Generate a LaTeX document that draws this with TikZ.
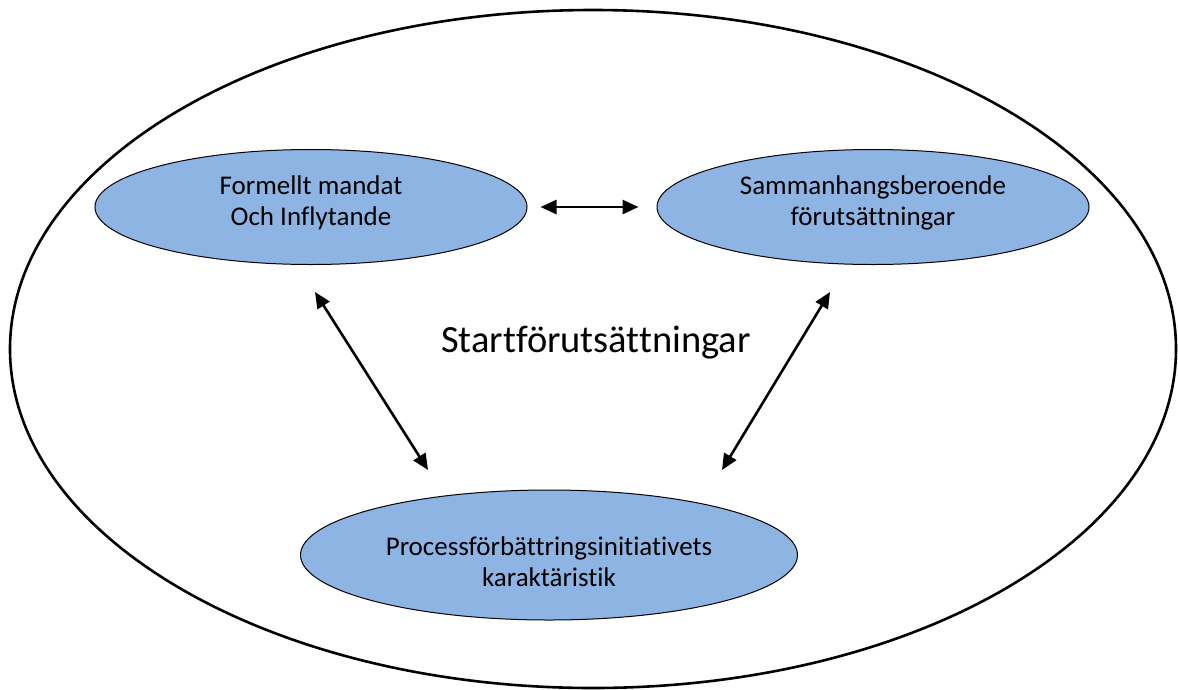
\documentclass[tikz,border=0pt]{standalone}
\usepackage{fontspec}
\setmainfont[Ligatures=CommonOff]{Carlito}
\usetikzlibrary{arrows.meta, shapes.geometric}
\definecolor{ellfill}{HTML}{8EB4E3}

\begin{document}
\begin{tikzpicture}[x=1pt, y=-1pt,
   outer/.style = {ellipse, draw, line width=2.6pt, inner sep=0pt,
                   minimum width=1166pt, minimum height=678pt},
    part/.style = {ellipse, draw, line width=1pt, fill=ellfill,
                   inner sep=0pt},
   label/.style = {align=center, font=\fontsize{27}{31}\selectfont},
    link/.style = {{Triangle[length=16pt,width=14pt]}-{Triangle[length=16pt,width=14pt]},
                   line width=2.6pt}
                    ]
  \useasboundingbox (0,0) rectangle (1178,689);
  \node (outer) [outer] at (593,349) {};
  \node (title) [font=\fontsize{38.5}{46}\selectfont] at (596,343) {Startförutsättningar};
  \node (fm) [part, minimum width=432pt, minimum height=115pt] at (311,207) {};
  \node (fm-t) [label] at (311,203) {Formellt mandat\\Och Inflytande};
  \node (sf) [part, minimum width=432pt, minimum height=115pt] at (873,207) {};
  \node (sf-t) [label] at (873,203) {Sammanhangsberoende\\förutsättningar};
  \node (pk) [part, minimum width=497pt, minimum height=130pt] at (549,555) {};
  \node (pk-t) [label] at (549,562) {Processförbättringsinitiativets\\karaktäristik};
  % free ends of the arrows
  \coordinate (fm-a) at (315,292);
  \coordinate (pk-a) at (428,470);
  \coordinate (sf-a) at (830,292);
  \coordinate (pk-b) at (722,470);
  \draw [link] (fm.east) -- (sf.west)
        [shorten <=13pt, shorten >=18pt];
  \draw [link] (fm-a) -- (pk-a);
  \draw [link] (sf-a) -- (pk-b);
\end{tikzpicture}
\end{document}
